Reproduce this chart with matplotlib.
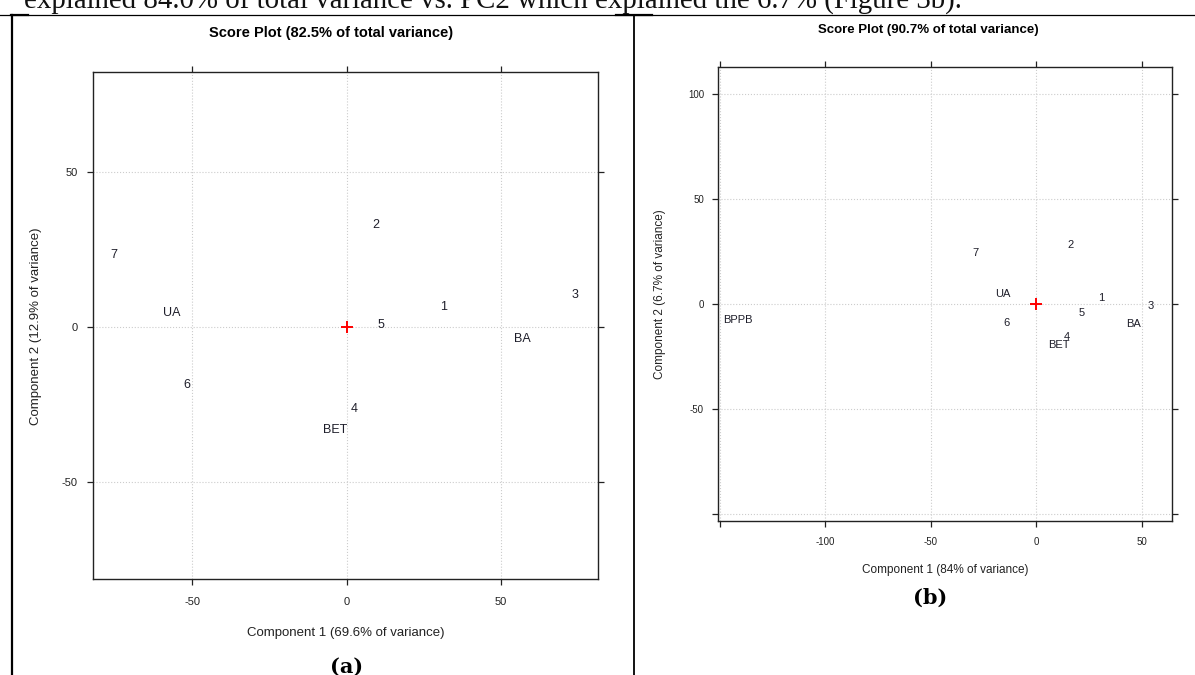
import numpy as np
import matplotlib
matplotlib.use('Agg')
import matplotlib.pyplot as plt
from matplotlib.lines import Line2D

plt.rcParams['font.family'] = ['Liberation Sans', 'DejaVu Sans']
plt.rcParams['axes.unicode_minus'] = False

W, H = 1195, 675

# panel (a) scores
labels_a = ['7', 'UA', '6', '4', 'BET', '2', '1', '5', '3', 'BA']
x_a = [-75.4, -56.6, -51.9, 2.5, -3.8, 9.3, 31.3, 11.0, 73.8, 56.9]
y_a = [23.3, 4.7, -18.6, -26.5, -33.1, 33.0, 6.5, 0.7, 10.4, -3.9]

# panel (b) scores
labels_b = ['7', 'UA', '6', '2', '1', '5', '3', 'BA', '4', 'BET', 'BPPB']
x_b = [-29.0, -15.6, -14.1, 16.2, 30.8, 21.5, 54.2, 46.1, 14.5, 11.0, -141.3]
y_b = [24.1, 4.9, -9.2, 27.9, 3.0, -4.3, -1.0, -9.5, -15.5, -19.3, -7.7]

xticks_a = [-50, 0, 50]
yticks_a = [-50, 0, 50]
xticks_b = [-150, -100, -50, 0, 50]
xticklabels_b = ['', '-100', '-50', '0', '50']
yticks_b = [-100, -50, 0, 50, 100]
yticklabels_b = ['', '-50', '0', '50', '100']


def px_axes(fig, left, top, right, bottom):
    """axes from pixel box (origin top-left)"""
    return fig.add_axes([left / W, 1 - bottom / H, (right - left) / W, (bottom - top) / H])


def score_panel(ax, xs, ys, labels, fs, xlabel, ylabel, pads):
    ax.grid(True, color='#cccccc', linestyle=':', linewidth=0.8)
    ax.set_axisbelow(True)
    for s in ax.spines.values():
        s.set_linewidth(1.0)
        s.set_color('#222222')
    ax.tick_params(direction='out', length=4.3, width=0.9, colors='#222222',
                   top=True, right=True, labelsize=fs - 1)
    ax.tick_params(axis='x', pad=pads[0])
    ax.tick_params(axis='y', pad=pads[1])
    for x, y, t in zip(xs, ys, labels):
        ax.text(x, y, t, ha='center', va='center', fontsize=fs, color='#1e1e2a')
    ax.plot([0], [0], marker='+', color='red', markersize=8, mew=1.4, linestyle='none')
    ax.set_xlabel(xlabel, fontsize=fs + 0.5, color='#222222')
    ax.set_ylabel(ylabel, fontsize=fs + 0.5, color='#222222')


fig = plt.figure(figsize=(W / 100, H / 100), dpi=100)

# (a)
ax1 = px_axes(fig, 92.7, 72.3, 598.4, 579.3)
score_panel(ax1, x_a, y_a, labels_a, 9, 'Component 1 (69.6% of variance)',
            'Component 2 (12.9% of variance)', (8.5, 6.5))
ax1.set_xlim(-82.3, 81.5)
ax1.set_ylim(-81.3, 82.3)
ax1.set_xticks(xticks_a)
ax1.set_yticks(yticks_a)
ax1.xaxis.set_label_coords(0.5, -0.094)
ax1.yaxis.set_label_coords(-0.100, 0.5)

# (b)
ax2 = px_axes(fig, 717.6, 66.7, 1172.3, 521.3)
score_panel(ax2, x_b, y_b, labels_b, 8, 'Component 1 (84% of variance)',
            'Component 2 (6.7% of variance)', (7.0, 5.5))
ax2.set_xlim(-151.1, 64.6)
ax2.set_ylim(-103.3, 112.8)
ax2.set_xticks(xticks_b)
ax2.set_xticklabels(xticklabels_b)
ax2.set_yticks(yticks_b)
ax2.set_yticklabels(yticklabels_b)
ax2.xaxis.set_label_coords(0.5, -0.094)
ax2.yaxis.set_label_coords(-0.113, 0.5)

# titles
fig.text(330.6 / W, 1 - 33 / H, 'Score Plot (82.5% of total variance)',
         ha='center', va='center', fontsize=10.5, fontweight='bold')
fig.text(928 / W, 1 - 30 / H, 'Score Plot (90.7% of total variance)',
         ha='center', va='center', fontsize=9.5, fontweight='bold')

# sub-figure captions
fig.text(347 / W, 1 - 667 / H, '(a)', ha='center', va='center',
         fontsize=15, fontweight='bold', family=['DejaVu Serif'])
fig.text(930 / W, 1 - 598 / H, '(b)', ha='center', va='center',
         fontsize=15, fontweight='bold', family=['DejaVu Serif'])

# running text cut off at the top of the page
fig.text(24 / W, 1 - 8.5 / H,
         'explained 84.0% of total variance vs. PC2 which explained the 6.7% (Figure 3b).',
         ha='left', va='baseline', fontsize=20.8, family=['Liberation Serif'], color='#111111')

# table frame
def hline(y, x0, x1, lw):
    fig.add_artist(Line2D([x0 / W, x1 / W], [1 - y / H, 1 - y / H], color='black', lw=lw))


def vline(x, y0, y1, lw):
    fig.add_artist(Line2D([x / W, x / W], [1 - y0 / H, 1 - y1 / H], color='black', lw=lw))


hline(15.3, 0, W, 0.9)
hline(15.3, 11, 28, 1.6)
hline(15.3, 616, 652, 1.6)
vline(11.8, 15, H, 1.6)
vline(633.5, 15, H, 1.3)

fig.savefig('out.png', dpi=100)
